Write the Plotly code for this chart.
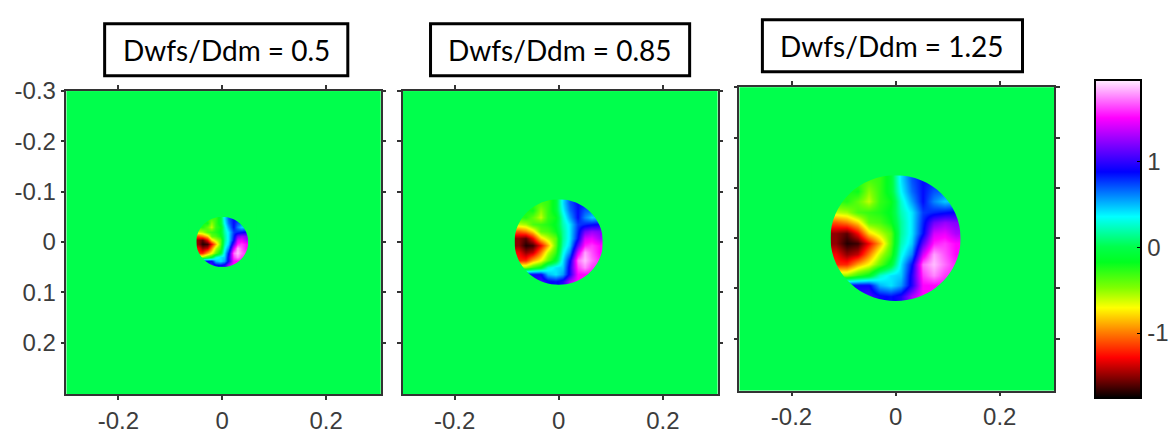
import numpy as np
import plotly.graph_objects as go

# ---------------- data ----------------
ratios = [0.5, 0.85, 1.25]
titles = ["Dwfs/Ddm = 0.5", "Dwfs/Ddm = 0.85", "Dwfs/Ddm = 1.25"]

# residual phase map over the pupil (rows top->bottom, cols left->right)
phase_map = [
    [-0.30, -0.30, -0.30, -0.35, -0.30, -0.10, 0.40, 0.70, 0.85, 0.80, 0.70, 0.70],
    [-0.25, -0.25, -0.20, -0.50, -0.30, -0.10, 0.35, 0.65, 0.85, 0.70, 0.65, 0.70],
    [-0.30, -0.25, -0.40, -0.60, -0.30, -0.20, 0.25, 0.55, 0.85, 0.60, 0.45, 0.50],
    [-0.60, -0.55, -0.35, -0.30, -0.25, -0.15, 0.20, 0.40, 0.75, 0.80, 0.85, 0.90],
    [-1.10, -1.00, -0.80, -0.40, -0.35, -0.20, 0.15, 0.40, 0.80, 1.15, 1.25, 1.20],
    [-1.50, -1.60, -1.30, -0.80, -0.60, -0.40, 0.15, 0.40, 0.85, 1.40, 1.45, 1.30],
    [-1.50, -1.70, -1.65, -1.30, -0.90, -0.40, 0.20, 0.45, 1.10, 1.55, 1.60, 1.50],
    [-1.30, -1.50, -1.40, -1.00, -0.60, -0.30, 0.30, 0.60, 1.40, 1.80, 1.65, 1.50],
    [-1.20, -1.20, -0.90, -0.70, -0.40, -0.10, 0.40, 0.85, 1.70, 1.85, 1.70, 1.55],
    [-0.50, -0.50, -0.30, -0.15, 0.25, 0.40, 0.45, 0.95, 1.60, 1.75, 1.60, 1.55],
    [0.90, 0.90, 0.90, 0.90, 0.50, 0.40, 0.55, 0.95, 1.50, 1.50, 1.50, 1.50],
    [1.00, 1.00, 1.00, 1.05, 0.90, 0.85, 0.95, 1.30, 1.50, 1.50, 1.50, 1.50],
]
zmin, zmax = -1.76, 1.94

x_tickvals = [-0.2, 0, 0.2]
x_ticktext = ["-0.2", "0", "0.2"]
y_tickvals = [-0.3, -0.2, -0.1, 0, 0.1, 0.2]
y_ticktext = ["-0.3", "-0.2", "-0.1", "0", "0.1", "0.2"]
cbar_tickvals = [-1, 0, 1]
cbar_ticktext = ["-1", "0", "1"]

# ---------------- styling ----------------
W, H = 1175, 434
def px_x(p):
    return p / W
def px_y(p):
    return 1 - p / H

cmap_vals = [-1.76, -1.53, -1.29, -0.99, -0.71, -0.48, -0.18, 0.0, 0.35, 0.87, 1.19, 1.50, 1.94]
cmap_cols = ["#000000", "#800000", "#ff0000", "#ff8000", "#ffff00", "#80ff00", "#00ff20",
             "#00ff4c", "#00ffff", "#0000ff", "#8000ff", "#ff00ff", "#fff0ff"]
colorscale = [[(v - zmin) / (zmax - zmin), c] for v, c in zip(cmap_vals, cmap_cols)]
bg_green = "#00ff4c"

x_domains = [(px_x(66.7), px_x(382)), (px_x(404), px_x(720)), (px_x(742), px_x(1058))]
y_domains = [(px_y(395), px_y(80)), (px_y(395), px_y(80)), (px_y(391), px_y(76))]
title_boxes = [(105, 349, 10, 64), (432, 692, 10, 64), (765, 1026, 6, 60)]

tick_font = dict(family="Liberation Sans, Arial, sans-serif", size=24, color="#3c3c3c")

fig = go.Figure()
phase = np.array(phase_map, dtype=float)
n = phase.shape[0]
unit = (np.arange(n) + 0.5) / (n / 2) - 1.0   # pupil-normalised cell centres


def mask_path(r, R):
    k = 0.5523 * r
    sq = f"M {-R},{-R} L {R},{-R} L {R},{R} L {-R},{R} Z "
    circ = (f"M {r},0 C {r},{k} {k},{r} 0,{r} "
            f"C {-k},{r} {-r},{k} {-r},0 "
            f"C {-r},{-k} {-k},{-r} 0,{-r} "
            f"C {k},{-r} {r},{-k} {r},0 Z")
    return sq + circ


shapes = []
annotations = []
for i, ratio in enumerate(ratios):
    idx = "" if i == 0 else str(i + 1)
    r = ratio / 10.0
    fig.add_trace(go.Heatmap(
        z=phase, x=unit * r, y=unit * r,
        coloraxis="coloraxis", zsmooth="best",
        xaxis="x" + idx, yaxis="y" + idx, hoverinfo="skip",
    ))
    shapes.append(dict(type="path", path=mask_path(r, r * 1.3), xref="x" + idx, yref="y" + idx,
                       fillcolor=bg_green, line=dict(width=0), layer="above", fillrule="evenodd"))
    common = dict(showline=True, linecolor="#333333", linewidth=1.5, mirror="ticks",
                  ticks="outside", ticklen=4, tickwidth=1.5, tickcolor="#333333",
                  showgrid=False, zeroline=False, tickfont=tick_font)
    fig.layout["xaxis" + idx] = dict(domain=list(x_domains[i]), range=[-0.3, 0.305],
                                     anchor="y" + idx, tickvals=x_tickvals, ticktext=x_ticktext,
                                     **common)
    fig.layout["yaxis" + idx] = dict(domain=list(y_domains[i]), range=[0.303, -0.3],
                                     anchor="x" + idx, tickvals=y_tickvals, ticktext=y_ticktext,
                                     showticklabels=(i == 0), **common)
    x0, x1, y0, y1 = title_boxes[i]
    shapes.append(dict(type="rect", xref="paper", yref="paper",
                       x0=px_x(x0), x1=px_x(x1), y0=px_y(y1), y1=px_y(y0),
                       line=dict(color="black", width=3), fillcolor="white", layer="above"))
    annotations.append(dict(text=titles[i], xref="paper", yref="paper",
                            x=px_x((x0 + x1) / 2), y=px_y((y0 + y1) / 2),
                            xanchor="center", yanchor="middle", showarrow=False,
                            font=dict(family="Lato, Open Sans, sans-serif", size=28, color="black")))

fig.update_layout(
    width=W, height=H,
    margin=dict(l=0, r=0, t=0, b=0),
    paper_bgcolor="white", plot_bgcolor=bg_green,
    showlegend=False,
    shapes=shapes, annotations=annotations,
    coloraxis=dict(
        colorscale=colorscale, cmin=zmin, cmax=zmax,
        colorbar=dict(
            x=px_x(1099), xanchor="left", xpad=0, ypad=0,
            y=px_y(234), yanchor="middle", len=318, lenmode="pixels",
            thickness=46, outlinecolor="black", outlinewidth=2,
            ticks="inside", ticklen=5, tickcolor="black",
            tickvals=cbar_tickvals, ticktext=cbar_ticktext,
            tickfont=tick_font,
        ),
    ),
)

fig.write_html("out.html")
